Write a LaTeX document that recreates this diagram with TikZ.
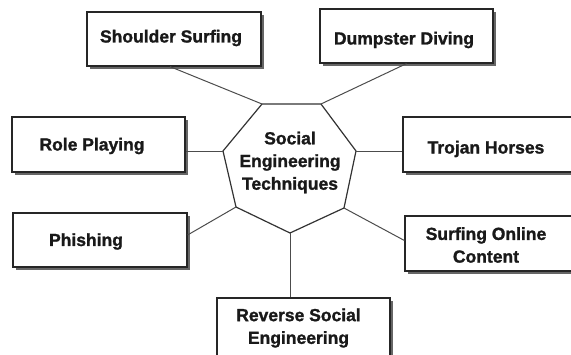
\documentclass[tikz,border=0pt]{standalone}
\usepackage{fontspec}
\setmainfont[BoldFeatures={FakeBold=1.3}]{Liberation Sans}
\usetikzlibrary{shadows}
\begin{document}
\begin{tikzpicture}[x=1pt,y=-1pt,
  tbox/.style={rectangle, draw=black!85, line width=1.2pt, fill=white, inner sep=0pt,
    drop shadow={shadow xshift=2.5pt, shadow yshift=-2.5pt, fill=black!60, opacity=1}},
  ttext/.style={font=\bfseries\fontsize{17.5}{22.7}\selectfont, align=center, text=black!90, inner sep=0pt},
  conn/.style={draw=black!70, line width=1pt},
  hept/.style={draw=black!80, line width=1.2pt}]
\useasboundingbox (0,0) rectangle (571,354);
% boxes
\node[tbox, minimum width=174pt, minimum height=54pt] (ss) at (174,39) {};
\node[tbox, minimum width=173pt, minimum height=54pt] (dd) at (406.5,36) {};
\node[tbox, minimum width=173pt, minimum height=55pt] (rp) at (98.5,144.5) {};
\node[tbox, minimum width=182pt, minimum height=55pt] (th) at (494,144.5) {};
\node[tbox, minimum width=174pt, minimum height=54pt] (ph) at (100,240) {};
\node[tbox, minimum width=180pt, minimum height=55pt] (so) at (495,243.5) {};
\node[tbox, minimum width=173pt, minimum height=62pt] (rs) at (303.5,329) {};
% texts
\node[ttext] (tss) at (171,38) {Shoulder Surfing};
\node[ttext] (tdd) at (404,40) {Dumpster Diving};
\node[ttext] (trp) at (92,146) {Role Playing};
\node[ttext] (tth) at (486,149) {Trojan Horses};
\node[ttext] (tph) at (86,241.5) {Phishing};
\node[ttext] (tso) at (486,245) {Surfing Online\\Content};
\node[ttext] (trs) at (298.5,328) {Reverse Social\\Engineering};
% heptagon
\coordinate (A) at (262,104);
\coordinate (B) at (321,104);
\coordinate (C) at (356,151);
\coordinate (D) at (344,208);
\coordinate (E) at (290,233);
\coordinate (F) at (236,207);
\coordinate (G) at (223,151);
\draw[hept, fill=white] (A) -- (B) -- (C) -- (D) -- (E) -- (F) -- (G) -- cycle;
\node[ttext] (center) at (290,162.5) {Social\\Engineering\\Techniques};
% connectors
\draw[conn] ([xshift=-4pt]ss.south) -- (A);
\draw[conn] (dd.south) -- (B);
\draw[conn] (G -| rp.east) -- (G);
\draw[conn] (C -| th.west) -- (C);
\draw[conn] ([yshift=5pt]ph.east) -- (F);
\draw[conn] ([yshift=3pt]so.west) -- (D);
\draw[conn] (E |- rs.north) -- (E);
\end{tikzpicture}
\end{document}
